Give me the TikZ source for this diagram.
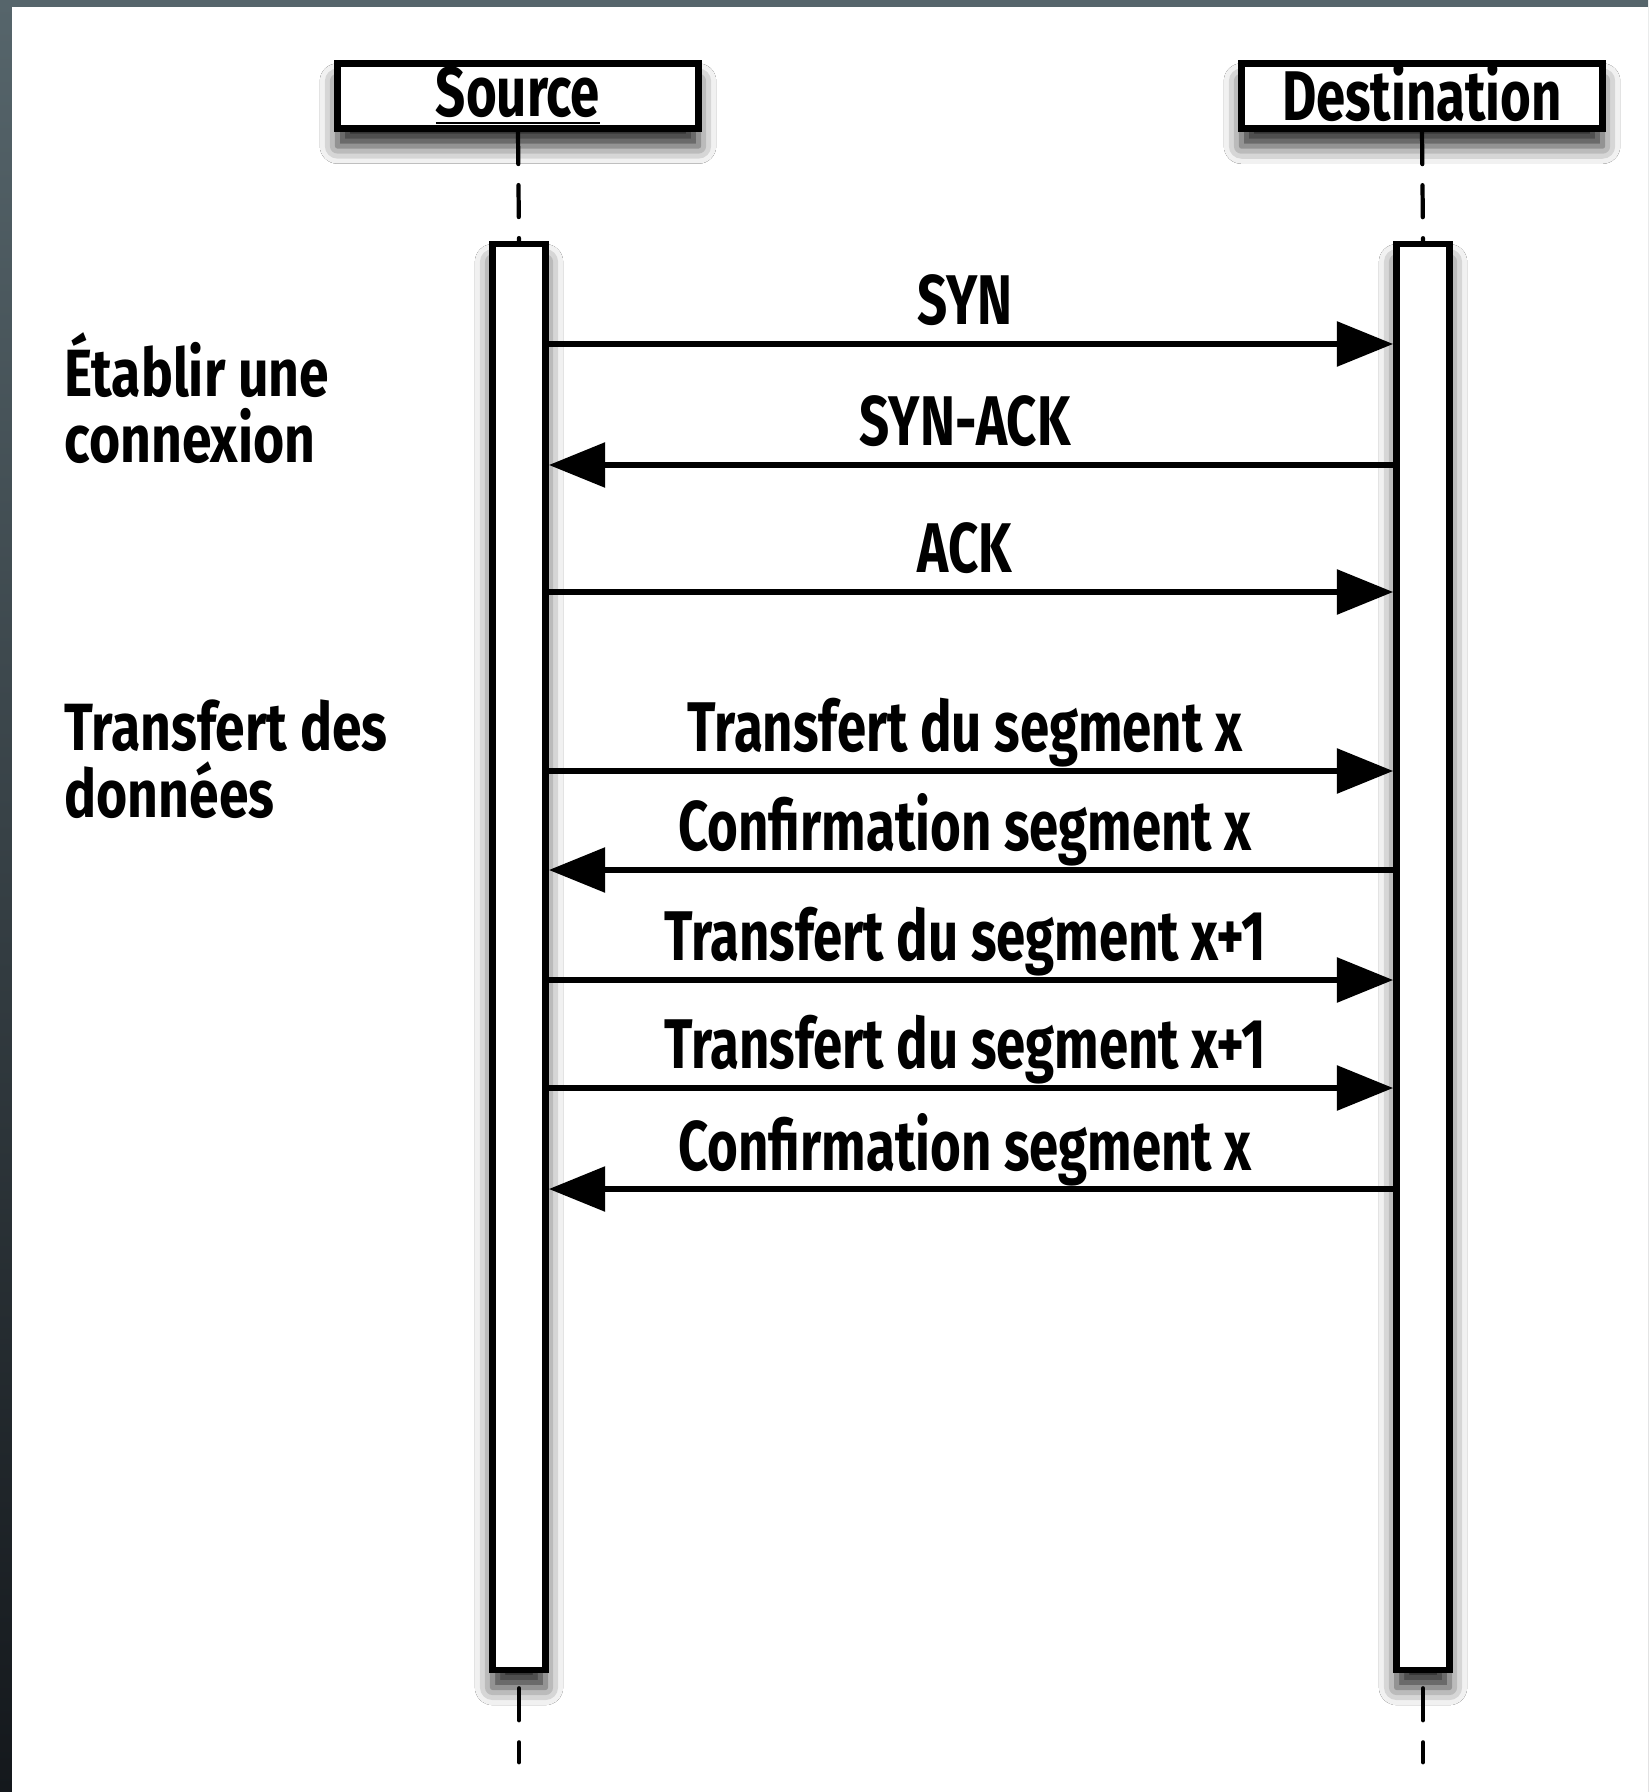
\documentclass[tikz,border=0pt]{standalone}
\usepackage{fontspec}
\setmainfont{Fira Sans}[FakeStretch=0.8]
\newfontfamily\narrowfont{Fira Sans}[FakeStretch=0.75]
\usetikzlibrary{shapes,arrows.meta,positioning,calc,shadows.blur}
\definecolor{slate}{RGB}{86,101,107}
\definecolor{slatedark}{RGB}{20,24,28}

\begin{document}
\begin{tikzpicture}[x=0.01cm, y=-0.01cm,
  softshadow/.style={blur shadow={shadow xshift=0pt, shadow yshift=-5pt, shadow blur radius=5pt, shadow opacity=85}},
  actor/.style={draw, line width=2pt, fill=white, minimum width=3.61cm, minimum height=0.65cm, inner sep=0pt, font=\narrowfont\fontsize{20}{22}\selectfont\bfseries, softshadow},
  bar/.style={draw, line width=1.9pt, fill=white, minimum width=0.53cm, minimum height=14.25cm, inner sep=0pt, softshadow},
  lifeline/.style={line width=1.2pt, line cap=round},
  msg/.style={line width=1.7pt},
  fwd/.style={-{Triangle[length=16pt,width=12.5pt]}},
  bwd/.style={{Triangle[length=16pt,width=12.5pt]}-},
  msglabel/.style={fill=white, inner sep=0pt, anchor=base, yshift=0.19cm, xshift=-0.06cm, font=\narrowfont\fontsize{20}{22}\selectfont\bfseries},
  phase/.style={anchor=base west, align=left, inner sep=0pt, font=\fontsize{19}{18.8}\selectfont\bfseries}]
  \useasboundingbox (0,0) rectangle (1648,1792);
  % frame
  \shade[top color=slate, bottom color=slatedark] (0,0) rectangle (1648,1792);
  \fill[white] (12,7) rectangle (1648,1792);

  % participants
  \node[actor] (src) at (518,96) {\underline{Source}};
  \node[actor] (dst) at (1422,96) {\underline{Destination}};
  \node[bar] (srcbar) at (519,957) {};
  \node[bar] (dstbar) at (1423,957) {};

  % lifelines
  \draw[lifeline, dash pattern=on 0.32cm off 0.21cm] (src.south) -- (srcbar.north);
  \draw[lifeline, dash pattern=on 0.32cm off 0.21cm] (dst.south) -- (dstbar.north);
  \coordinate (srcend) at ($(srcbar.south)+(0,89)$);
  \coordinate (dstend) at ($(dstbar.south)+(0,89)$);
  \draw[lifeline, dash pattern=on 0.32cm off 0.22cm, dash phase=0.39cm] (srcbar.south) -- (srcend);
  \draw[lifeline, dash pattern=on 0.32cm off 0.22cm, dash phase=0.39cm] (dstbar.south) -- (dstend);

  % messages
  \foreach \y/\txt/\dir [count=\i] in {344/SYN/fwd, 465/SYN-ACK/bwd, 592/ACK/fwd,
      771/Transfert du segment x/fwd, 870/Confirmation segment x/bwd,
      980/Transfert du segment x+1/fwd, 1088/Transfert du segment x+1/fwd,
      1189/Confirmation segment x/bwd} {
    \coordinate (h\i) at (0,\y);
    \draw[msg,\dir] (srcbar.east |- h\i) -- node[msglabel] (m\i) {\txt} (dstbar.west |- h\i);
  }

  % phases
  \node[phase] (p1) at (64,463) {Établir une\\connexion};
  \node[phase] (p2) at (64,817) {Transfert des\\données};
\end{tikzpicture}
\end{document}
